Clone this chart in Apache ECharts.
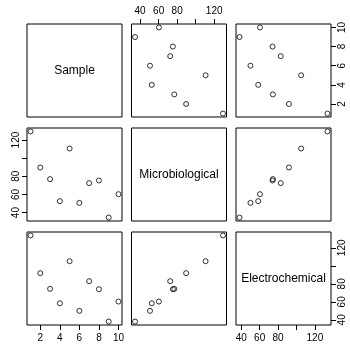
<!DOCTYPE html>
<html>
<head>
<meta charset="utf-8">
<script src="https://cdn.jsdelivr.net/npm/echarts@6/dist/echarts.min.js"></script>
<style>
  html, body { margin: 0; padding: 0; background: #fff; }
  #chart { width: 350px; height: 344px; }
</style>
</head>
<body>
<div id="chart"></div>
<script>
// scatterplot matrix: sample number vs the two measurement methods
const sampleNo = [1, 2, 3, 4, 5, 6, 7, 8, 9, 10];
const microbiological = [129.5, 89.7, 76.9, 52.6, 110.7, 50.7, 72.5, 75.4, 34.5, 60.3];
const electrochemical = [133.7, 91.8, 74.4, 58.4, 105.1, 50.0, 82.9, 74.0, 38.1, 60.3];
const varNames = ['Sample', 'Microbiological', 'Electrochemical'];

const sampleTicks = [2, 4, 6, 8, 10];
const sampleLabels = [2, 4, 6, 8, 10];
const concTicks = [40, 60, 80, 100, 120];
const concLabels = [40, 60, 80, 120];

const FONT = '"Liberation Sans", Arial, sans-serif';
const vars = [sampleNo, microbiological, electrochemical];
const ticks = [sampleTicks, concTicks, concTicks];
const labels = [sampleLabels, concLabels, concLabels];

// R style range: data range padded by 4% each side
function padRange(vals) {
    const lo = Math.min(...vals);
    const hi = Math.max(...vals);
    const d = (hi - lo) * 0.04;
    return [lo - d, hi + d];
}
const ranges = vars.map(padRange);

const panelLeft = c => 27 + c * 104.5;
const panelTop = r => 24 + r * 104;
const PW = 95, PH = 93;

// which panel carries the tick marks for each column / row
const xAxisAt = { 0: [2, 'bottom'], 1: [0, 'top'], 2: [2, 'bottom'] };  // col -> [row, side]
const yAxisAt = { 0: [2, 'right'], 1: [0, 'left'], 2: [2, 'right'] };   // row -> [col, side]

const grids = [], xAxes = [], yAxes = [], series = [], titles = [];

for (let r = 0; r < 3; r++) {
    for (let c = 0; c < 3; c++) {
        const k = r * 3 + c;
        grids.push({
            left: panelLeft(c), top: panelTop(r), width: PW, height: PH,
            show: true, borderColor: '#000', borderWidth: 1, backgroundColor: 'transparent'
        });

        const showX = xAxisAt[c][0] === r;
        const showY = yAxisAt[r][0] === c;

        xAxes.push({
            type: 'value', gridIndex: k,
            min: ranges[c][0], max: ranges[c][1],
            position: showX ? xAxisAt[c][1] : 'bottom',
            axisLine: { show: false },
            splitLine: { show: false },
            axisTick: {
                show: showX, length: 5, customValues: ticks[c],
                lineStyle: { color: '#000', width: 1 }
            },
            axisLabel: {
                show: showX, customValues: labels[c], margin: 8,
                color: '#000', fontSize: 10, fontFamily: FONT
            }
        });
        yAxes.push({
            type: 'value', gridIndex: k,
            min: ranges[r][0], max: ranges[r][1],
            position: showY ? yAxisAt[r][1] : 'left',
            axisLine: { show: false },
            splitLine: { show: false },
            axisTick: {
                show: showY, length: 5, customValues: ticks[r],
                lineStyle: { color: '#000', width: 1 }
            },
            axisLabel: {
                show: showY, customValues: labels[r], margin: 6, rotate: 90,
                color: '#000', fontSize: 10, fontFamily: FONT
            }
        });

        if (r === c) {
            titles.push({
                text: varNames[r],
                left: panelLeft(c) + PW / 2, top: panelTop(r) + PH / 2,
                textAlign: 'center', textVerticalAlign: 'middle', padding: 0,
                textStyle: { fontSize: 12, fontWeight: 'normal', color: '#000', fontFamily: FONT }
            });
        } else {
            series.push({
                type: 'scatter', xAxisIndex: k, yAxisIndex: k,
                data: vars[c].map((v, i) => [v, vars[r][i]]),
                symbol: 'circle', symbolSize: 5,
                itemStyle: { color: 'rgba(0,0,0,0)', borderColor: '#000', borderWidth: 1 },
                silent: true
            });
        }
    }
}

const chart = echarts.init(document.getElementById('chart'));
chart.setOption({
    backgroundColor: '#fff',
    animation: false,
    title: titles,
    grid: grids,
    xAxis: xAxes,
    yAxis: yAxes,
    series: series
});
</script>
</body>
</html>
